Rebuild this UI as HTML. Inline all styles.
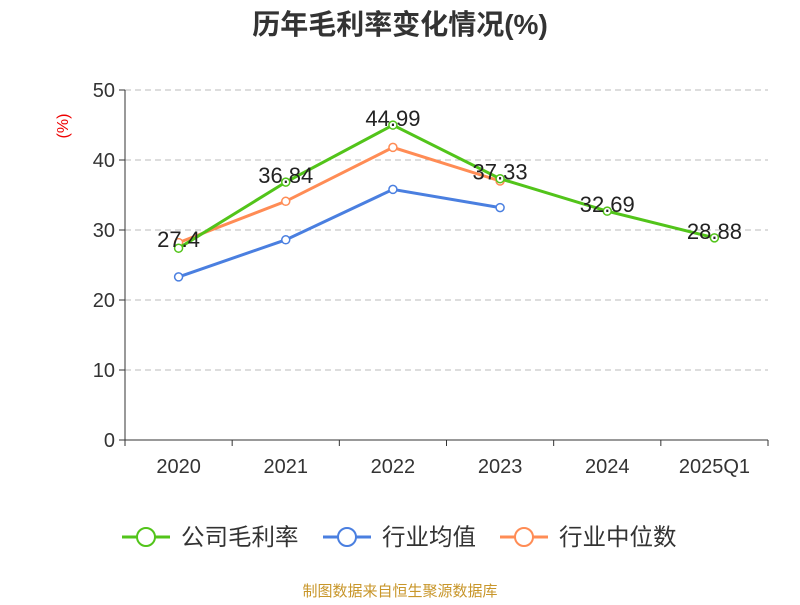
<!DOCTYPE html>
<html><head><meta charset="utf-8"><style>
body{margin:0;background:#fff;font-family:"Liberation Sans","Noto Sans CJK SC",sans-serif}
</style></head><body>
<svg id="c" width="800" height="600" xmlns="http://www.w3.org/2000/svg" font-family="Liberation Sans, Noto Sans CJK SC, sans-serif">
<text x="400" y="34" text-anchor="middle" font-size="28" font-weight="bold" fill="#333">历年毛利率变化情况(%)</text>
<text transform="translate(68,126) rotate(-90)" text-anchor="middle" font-size="16" fill="#e00">(%)</text>
<g id="grid"></g><g id="axes"></g><g id="series"></g>
<g>
<g><line x1="122" y1="537" x2="170" y2="537" stroke="#52c41a" stroke-width="3"/><circle cx="146" cy="537" r="9" fill="#fff" stroke="#52c41a" stroke-width="2"/><text x="181" y="545" font-size="23.5" fill="#333">公司毛利率</text></g>
<g><line x1="323" y1="537" x2="371" y2="537" stroke="#4a7fe0" stroke-width="3"/><circle cx="347" cy="537" r="9" fill="#fff" stroke="#4a7fe0" stroke-width="2"/><text x="382" y="545" font-size="23.5" fill="#333">行业均值</text></g>
<g><line x1="500" y1="537" x2="548" y2="537" stroke="#ff8c55" stroke-width="3"/><circle cx="524" cy="537" r="9" fill="#fff" stroke="#ff8c55" stroke-width="2"/><text x="559" y="545" font-size="23.5" fill="#333">行业中位数</text></g>
</g>
<text x="400" y="596" text-anchor="middle" font-size="15" fill="#c8962a">制图数据来自恒生聚源数据库</text>
</svg>
<script>
const categories=["2020","2021","2022","2023","2024","2025Q1"];
const company=[27.4,36.84,44.99,37.33,32.69,28.88];
const industryAvg=[23.3,28.6,35.8,33.2];
const industryMedian=[28.2,34.1,41.8,37.0];
const yTicks=[0,10,20,30,40,50];
const NS="http://www.w3.org/2000/svg";
const x0=125,x1=768,yb=440,yt=90;
const bw=(x1-x0)/categories.length;
const X=i=>x0+bw*(i+0.5), Y=v=>yb-(v/50)*(yb-yt);
function mk(p,t,a){const e=document.createElementNS(NS,t);for(const k in a)e.setAttribute(k,a[k]);p.appendChild(e);return e;}
const g=document.getElementById('grid'),ax=document.getElementById('axes'),s=document.getElementById('series');
yTicks.forEach(v=>{
 if(v>0){const l=mk(g,'line',{x1:x0,x2:x1,y1:Y(v),y2:Y(v),stroke:'#bbb','stroke-dasharray':'6,4'});
 }
 const tk=mk(ax,'line',{x1:x0-6,x2:x0,y1:Y(v),y2:Y(v),stroke:'#333'});
 
 const t=mk(ax,'text',{x:x0-10,y:Y(v)+7,'text-anchor':'end','font-size':20,fill:'#333'});t.textContent=v;
 
});
const ya=mk(ax,'line',{x1:x0,x2:x0,y1:yt,y2:yb,stroke:'#333'});

const xa=mk(ax,'line',{x1:x0,x2:x1,y1:yb,y2:yb,stroke:'#333'});

for(let i=0;i<=categories.length;i++){const tk=mk(ax,'line',{x1:x0+bw*i,x2:x0+bw*i,y1:yb,y2:yb+6,stroke:'#333'});
 }
categories.forEach((c,i)=>{const t=mk(ax,'text',{x:X(i),y:473,'text-anchor':'middle','font-size':20,fill:'#333'});t.textContent=c;
 });
function line(d,col,name,labels){
 const p=mk(s,'polyline',{points:d.map((v,i)=>X(i)+','+Y(v)).join(' '),fill:'none',stroke:col,'stroke-width':3});
 
 d.forEach((v,i)=>{const c=mk(s,'circle',{cx:X(i),cy:Y(v),r:4,fill:'#fff',stroke:col,'stroke-width':1.5});
  
  if(labels){const t=mk(s,'text',{x:X(i),y:Y(v)+(i===0?-1:1),'text-anchor':'middle','font-size':22,fill:'#222'});t.textContent=v;
   }});
}
line(industryAvg,'#4a7fe0','industry-average',false);
line(industryMedian,'#ff8c55','industry-median',false);
line(company,'#52c41a','company-gross-margin',true);
</script>
</body></html>
